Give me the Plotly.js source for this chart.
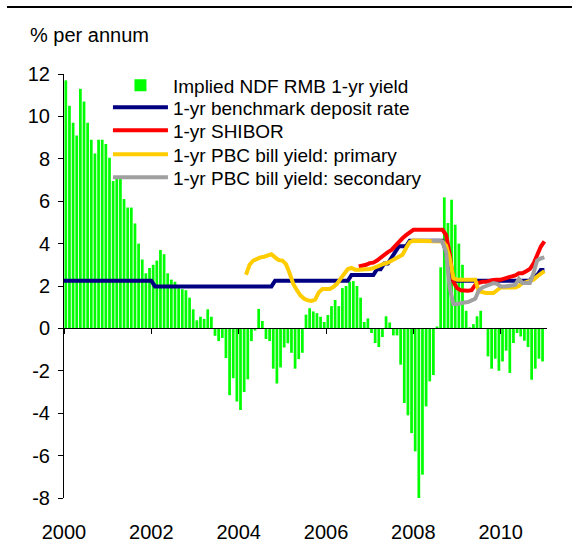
<!DOCTYPE html>
<html>
<head>
<meta charset="utf-8">
<script src="https://cdn.plot.ly/plotly-3.0.1.min.js"></script>
<style>
  html, body { margin: 0; padding: 0; background: #fff; }
  #wrap { position: relative; width: 579px; height: 553px; }
  #rule { position: absolute; left: 7px; top: 6px; width: 565px; height: 2px; background: #000; z-index: 5; }
  #chart { width: 579px; height: 553px; }
</style>
</head>
<body>
<div id="wrap"><div id="rule"></div><div id="chart"></div></div>
<script>
// ---- Data (monthly) ----
// Month index k: 0 = Jan 2000
const firstYear = 2000;
const seriesNames = [
  "Implied NDF RMB 1-yr yield",
  "1-yr benchmark deposit rate",
  "1-yr SHIBOR",
  "1-yr PBC bill yield: primary",
  "1-yr PBC bill yield: secondary"
];
const xTickYears = [2000, 2002, 2004, 2006, 2008, 2010];
const yTicks = [-8, -6, -4, -2, 0, 2, 4, 6, 8, 10, 12];

// Implied NDF RMB 1-yr yield, Jan 2000 - Dec 2010 (bars)
const ndfStart = 0;
const ndfYield = [
  11.7, 10.5, 9.7, 9.1, 11.3, 10.7, 9.7, 8.9, 8.25, 8.9, 8.9, 8.7,
  8.05, 6.95, 7.1, 7.1, 6.1, 5.7, 5.7, 4.95, 4.0, 3.25, 2.6, 2.85,
  3.0, 3.2, 3.7, 3.5, 2.6, 2.3, 2.2, 1.9, 1.85, 1.8, 1.45, 0.9,
  0.38, 0.55, 0.45, 0.9, 0.55, -0.35, -0.6, -0.45, -1.4, -3.15, -2.35, -3.45,
  -3.85, -3.0, -2.4, -0.6, -0.1, 0.92, 0.35, -0.5, -0.6, -1.9, -2.6, -1.84,
  -0.9, -0.7, -1.15, -1.9, -1.45, -1.15, 0.65, 0.95, 0.8, 0.72, 0.55, 0.3,
  0.63, 1.05, 1.34, 1.05, 1.9, 2.0, 2.2, 2.23, 2.0, 1.45, 0.3, 0.47,
  -0.22, -0.69, -0.88, -0.41, 0.57, 0.28, -0.33, -0.33, -1.71, -3.52, -4.1, -4.94,
  -5.8, -8.0, -6.9, -3.68, -2.5, -2.2, 0.09, 2.88, 6.18, 4.97, 6.07, 4.89,
  4.0, 3.0, 0.83, 0.05, 0.2, 0.57, 0.83, 0.0, -1.32, -1.9, -1.43, -2.0,
  -1.56, -1.05, -2.1, -0.69, -0.22, -0.38, -0.58, -0.88, -2.42, -1.9, -1.43, -1.56
];

// 1-yr benchmark deposit rate, Jan 2000 - Jan 2011
const depositStart = 0;
const depositRate = [
  2.25, 2.25, 2.25, 2.25, 2.25, 2.25, 2.25, 2.25, 2.25, 2.25, 2.25, 2.25,
  2.25, 2.25, 2.25, 2.25, 2.25, 2.25, 2.25, 2.25, 2.25, 2.25, 2.25, 2.25,
  2.25, 1.98, 1.98, 1.98, 1.98, 1.98, 1.98, 1.98, 1.98, 1.98, 1.98, 1.98,
  1.98, 1.98, 1.98, 1.98, 1.98, 1.98, 1.98, 1.98, 1.98, 1.98, 1.98, 1.98,
  1.98, 1.98, 1.98, 1.98, 1.98, 1.98, 1.98, 1.98, 1.98, 1.98, 2.25, 2.25,
  2.25, 2.25, 2.25, 2.25, 2.25, 2.25, 2.25, 2.25, 2.25, 2.25, 2.25, 2.25,
  2.25, 2.25, 2.25, 2.25, 2.25, 2.25, 2.25, 2.52, 2.52, 2.52, 2.52, 2.52,
  2.52, 2.52, 2.79, 2.79, 3.06, 3.06, 3.33, 3.60, 3.87, 3.87, 3.87, 4.14,
  4.14, 4.14, 4.14, 4.14, 4.14, 4.14, 4.14, 4.14, 4.14, 3.60, 2.52, 2.25,
  2.25, 2.25, 2.25, 2.25, 2.25, 2.25, 2.25, 2.25, 2.25, 2.25, 2.25, 2.25,
  2.25, 2.25, 2.25, 2.25, 2.25, 2.25, 2.25, 2.25, 2.25, 2.50, 2.50, 2.75,
  2.75
];

// 1-yr SHIBOR, Oct 2006 - Jan 2011
const shiborStart = 81;
const shibor = [
  2.92, 2.95, 3.0,
  3.08, 3.1, 3.2, 3.35, 3.5, 3.6, 3.7, 3.9, 4.1, 4.25, 4.4, 4.55,
  4.65, 4.65, 4.65, 4.65, 4.65, 4.65, 4.65, 4.65, 4.65, 4.4, 3.5, 2.2,
  1.9, 1.8, 1.78, 1.78, 1.8, 2.05, 2.15, 2.2, 2.2, 2.25, 2.28, 2.3,
  2.3, 2.35, 2.4, 2.45, 2.5, 2.6, 2.6, 2.7, 2.8, 3.05, 3.5, 3.85,
  4.1
];

// 1-yr PBC bill yield: primary, Mar 2004 - Jan 2011
const pbcPrimaryStart = 50;
const pbcPrimary = [
  2.53, 3.0, 3.2, 3.3, 3.35, 3.38, 3.42, 3.5, 3.35, 3.22,
  3.2, 3.03, 2.6, 2.1, 1.8, 1.55, 1.4, 1.32, 1.3, 1.36, 1.7, 1.86,
  1.86, 1.86, 1.95, 2.1, 2.35, 2.55, 2.8, 2.85, 2.77, 2.77, 2.77, 2.77,
  2.8, 2.84, 2.92, 2.98, 3.05, 3.1, 3.2, 3.28, 3.36, 3.47, 3.79, 4.07,
  4.14, 4.14, 4.14, 4.14, 4.14, 4.14, 4.14, 4.14, 4.1, 3.9, 3.3, 2.37,
  2.3, 2.3, 2.3, 2.3, 2.3, 2.3, 1.75, 1.7, 1.67, 1.67, 1.67, 1.8,
  1.93, 1.93, 1.93, 1.93, 1.93, 2.0, 2.14, 2.18, 2.22, 2.3, 2.45, 2.55,
  2.7
];

// 1-yr PBC bill yield: secondary, Jun 2008 - Jan 2011
const pbcSecondaryStart = 101;
const pbcSecondary = [
  4.14, 4.14, 4.14, 4.08, 3.6, 1.9, 1.15,
  1.15, 1.2, 1.22, 1.24, 1.3, 1.4, 1.8, 1.93, 2.0, 2.06, 2.14, 2.1,
  1.98, 1.98, 1.98, 2.02, 2.06, 2.34, 2.14, 2.14, 2.14, 2.6, 3.2, 3.3,
  3.35
];

// ---- helpers ----
const monthStartX = (start, arr) => arr.map((_, i) => firstYear + (start + i) / 12);
const monthMidX = (start, arr) => arr.map((_, i) => firstYear + (start + i + 0.5) / 12);

const FONT = "Liberation Sans, Arial, sans-serif";

const traces = [
  {
    type: "bar", name: seriesNames[0], legend: "legend",
    x: monthMidX(ndfStart, ndfYield), y: ndfYield,
    marker: { color: "#00FF00", line: { width: 0 } },
    hoverinfo: "skip"
  },
  {
    type: "scatter", mode: "lines", name: seriesNames[1], legend: "legend2",
    x: monthStartX(depositStart, depositRate), y: depositRate,
    line: { color: "#000080", width: 4 }
  },
  {
    type: "scatter", mode: "lines", name: seriesNames[2], legend: "legend3",
    x: monthStartX(shiborStart, shibor), y: shibor,
    line: { color: "#FF0000", width: 4 }
  },
  {
    type: "scatter", mode: "lines", name: seriesNames[3], legend: "legend4",
    x: monthStartX(pbcPrimaryStart, pbcPrimary), y: pbcPrimary,
    line: { color: "#FFCC00", width: 4 }
  },
  {
    type: "scatter", mode: "lines", name: seriesNames[4], legend: "legend5",
    x: monthStartX(pbcSecondaryStart, pbcSecondary), y: pbcSecondary,
    line: { color: "#A0A0A0", width: 4 }
  }
];

// one legend box per row so the row spacing matches the reference
const legendRowsY = [1.0177, 0.9658, 0.9116, 0.8550, 0.8007];
const legendBox = (y) => ({
  x: 0.091, y: y, xanchor: "left", yanchor: "top",
  bgcolor: "rgba(0,0,0,0)", borderwidth: 0,
  font: { family: FONT, size: 19, color: "#000" },
  itemwidth: 55
});

const layout = {
  width: 579, height: 553,
  margin: { l: 64, r: 32, t: 74, b: 55, pad: 0 },
  paper_bgcolor: "rgba(0,0,0,0)", plot_bgcolor: "rgba(0,0,0,0)",
  font: { family: FONT, size: 20, color: "#000" },
  showlegend: true,
  bargap: 0.25,
  xaxis: {
    type: "linear",
    range: [2000, 2011.06],
    tickmode: "array", tickvals: xTickYears, ticktext: xTickYears.map(String),
    anchor: "free", position: 0.4, side: "bottom",
    showline: true, linecolor: "#000", linewidth: 1,
    ticks: "outside", ticklen: 5, tickcolor: "#000", tickwidth: 1,
    ticklabelstandoff: 181,
    showgrid: false, zeroline: false,
    tickfont: { family: FONT, size: 20, color: "#000" }
  },
  yaxis: {
    range: [-8, 12],
    tickmode: "array", tickvals: yTicks, ticktext: yTicks.map(String),
    showline: true, linecolor: "#000", linewidth: 1,
    ticks: "outside", ticklen: 5, tickcolor: "#000", tickwidth: 1,
    ticklabelstandoff: 4,
    showgrid: false, zeroline: false,
    tickfont: { family: FONT, size: 20, color: "#000" }
  },
  legend: legendBox(legendRowsY[0]),
  legend2: legendBox(legendRowsY[1]),
  legend3: legendBox(legendRowsY[2]),
  legend4: legendBox(legendRowsY[3]),
  legend5: legendBox(legendRowsY[4]),
  annotations: [
    {
      text: "% per annum", xref: "paper", yref: "paper",
      x: -0.075, y: 1.092, xanchor: "left", yanchor: "middle",
      showarrow: false, font: { family: FONT, size: 20, color: "#000" }
    }
  ]
};

Plotly.newPlot("chart", traces, layout, { displayModeBar: false, staticPlot: true });
</script>
</body>
</html>
